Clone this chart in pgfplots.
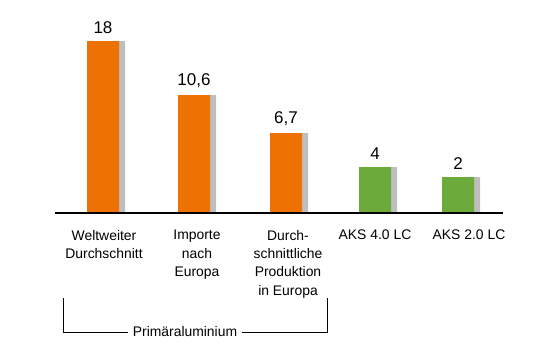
\documentclass[border=0pt]{standalone}
\usepackage{pgfplots}
\pgfplotsset{compat=1.18}
\usepackage{pgfplotstable}
\usepackage{fontspec}
\setmainfont{Liberation Sans}
\definecolor{orangebar}{RGB}{238,114,3}
\definecolor{greenbar}{RGB}{108,170,60}
\definecolor{shadow}{RGB}{190,190,190}
% x = bar position, h = drawn bar height (as in the reference), label = value shown
\pgfplotstableread{
x   h   label
103 172 18
194 118 10,6
286 80  6,7
}\orangedata
\pgfplotstableread{
x   h   label
375 46  4
458 36  2
}\greendata
\begin{document}
\begin{tikzpicture}
\begin{axis}[
  x=1bp, y=1bp,
  xmin=55, xmax=503, ymin=0, ymax=213,
  axis lines=none,
  clip=false,
  point meta=explicit symbolic,
  nodes near coords style={font=\fontsize{17bp}{20bp}\selectfont, anchor=south, yshift=4bp},
]
\path (axis cs:0,-139) rectangle (axis cs:551,213);
% shadows
\addplot[ybar, bar width=38, bar shift=3, fill=shadow, draw=none] table[x=x, y=h] {\orangedata};
\addplot[ybar, bar width=38, bar shift=3, fill=shadow, draw=none] table[x=x, y=h] {\greendata};
% bars
\addplot[ybar, bar width=32, bar shift=0, fill=orangebar, draw=none, nodes near coords] table[x=x, y=h, meta=label] {\orangedata};
\addplot[ybar, bar width=32, bar shift=0, fill=greenbar, draw=none, nodes near coords] table[x=x, y=h, meta=label] {\greendata};
\draw[line width=2bp] (axis cs:55,0) -- (axis cs:503,0);
% category labels
\begin{scope}[every node/.style={font=\fontsize{13.9bp}{18.3bp}\selectfont, align=center, anchor=north, inner sep=0pt}]
\node at (axis cs:104,-17) {Weltweiter\\Durchschnitt};
\node at (axis cs:197,-17) {Importe\\nach\\Europa};
\node at (axis cs:288,-17) {Durch-\\schnittliche\\Produktion\\in Europa};
\node at (axis cs:375,-17) {AKS 4.0 LC};
\node at (axis cs:469,-17) {AKS 2.0 LC};
\end{scope}
% bracket
\node[font=\fontsize{13.9bp}{17bp}\selectfont, inner sep=0pt] (pa) at (axis cs:185,-119) {Primäraluminium};
\draw[line width=0.8bp] (axis cs:63,-85) -- (axis cs:63,-119) -- ([xshift=-5bp]pa.west);
\draw[line width=0.8bp] (axis cs:327,-85) -- (axis cs:327,-119) -- ([xshift=5bp]pa.east);
\end{axis}
\end{tikzpicture}
\end{document}
